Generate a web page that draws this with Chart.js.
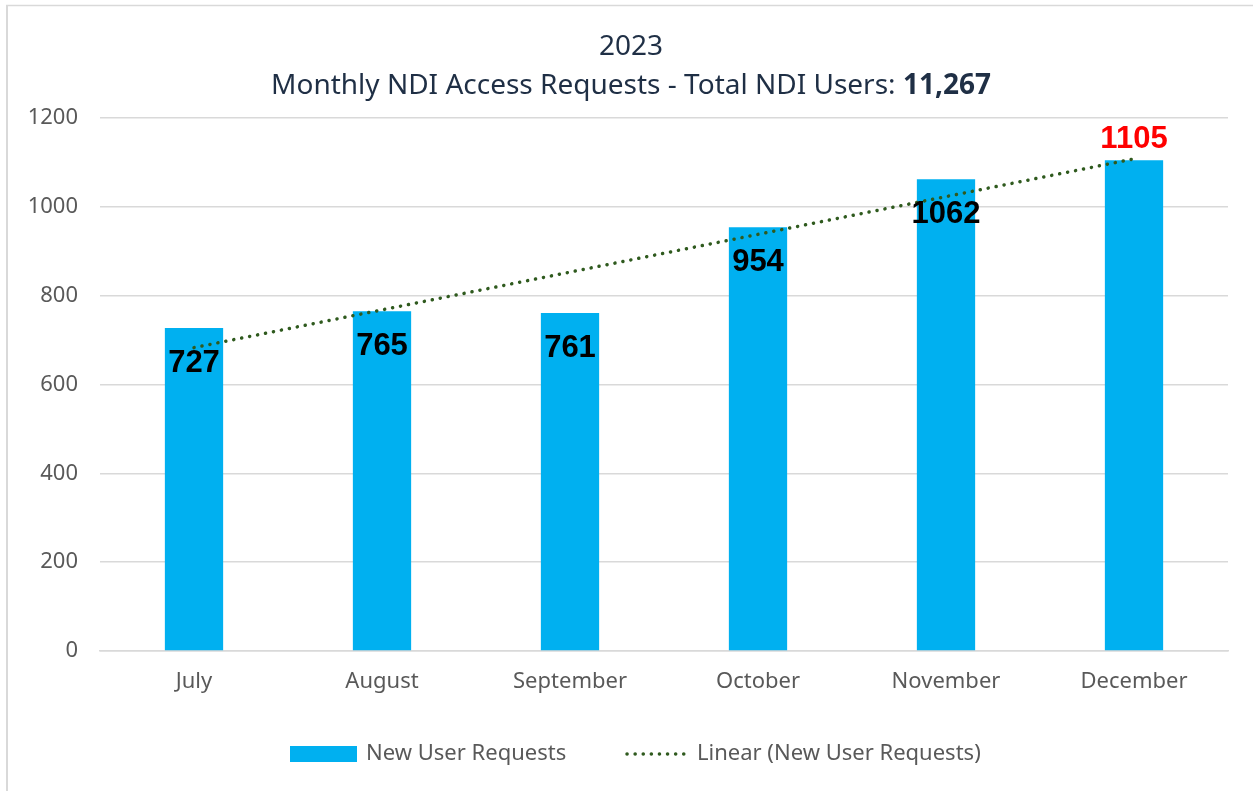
<!DOCTYPE html>
<html lang="en">
<head>
    <meta charset="UTF-8">
    <title>Monthly NDI Access Requests</title>
    <script src="https://cdn.jsdelivr.net/npm/chart.js"></script>
    <style>
        body { margin: 0; background: #fff; }
        #wrap { position: relative; width: 1253px; height: 791px; }
    </style>
</head>
<body>
    <div id="wrap"><canvas id="chart"></canvas></div>

    <script>
        // chart data
        const months = ['July', 'August', 'September', 'October', 'November', 'December'];
        const newUserRequests = [727, 765, 761, 954, 1062, 1105];
        // trendline end points (July / December)
        const trendValues = [683, null, null, null, null, 1108];
        const yTicks = [0, 200, 400, 600, 800, 1000, 1200];
        const titleYear = '2023';
        const titleMain = 'Monthly NDI Access Requests - Total NDI Users: ';
        const titleTotal = '11,267';

        const BAR_BLUE = '#00b0f0';
        const TREND_GREEN = '#2f5a1e';
        const GRID = '#d9d9d9';
        const TEXT_GRAY = '#595959';
        const TITLE_COLOR = '#1f2f45';
        const UI_FONT = '"Noto Sans", Roboto, sans-serif';

        // frame, title, bar value labels, legend
        const decorPlugin = {
            id: 'decor',
            afterDraw(chart) {
                const ctx = chart.ctx;
                ctx.save();

                // frame border (top and left visible)
                ctx.strokeStyle = GRID;
                ctx.lineWidth = 1.5;
                ctx.beginPath();
                ctx.moveTo(6, 5.5);
                ctx.lineTo(1253, 5.5);
                ctx.stroke();
                ctx.lineWidth = 2;
                ctx.beginPath();
                ctx.moveTo(7, 5);
                ctx.lineTo(7, 791);
                ctx.stroke();

                // title
                ctx.fillStyle = TITLE_COLOR;
                ctx.textBaseline = 'middle';
                ctx.textAlign = 'center';
                ctx.font = '28px ' + UI_FONT;
                ctx.fillText(titleYear, 631, 47);
                const regFont = '28px ' + UI_FONT;
                const boldFont = 'bold 28px ' + UI_FONT;
                ctx.font = regFont;
                const w1 = ctx.measureText(titleMain).width;
                ctx.font = boldFont;
                const w2 = ctx.measureText(titleTotal).width;
                let x = 631 - (w1 + w2) / 2;
                ctx.textAlign = 'left';
                ctx.font = regFont;
                ctx.fillText(titleMain, x, 86);
                ctx.font = boldFont;
                ctx.fillText(titleTotal, x + w1, 86);

                // value labels on bars
                const meta = chart.getDatasetMeta(0);
                ctx.textAlign = 'center';
                ctx.font = 'bold 31px "Liberation Sans", Arial, sans-serif';
                meta.data.forEach((bar, i) => {
                    const last = i === newUserRequests.length - 1;
                    ctx.fillStyle = last ? '#ff0000' : '#000000';
                    const y = last ? bar.y - 21 : bar.y + 35;
                    ctx.fillText(String(newUserRequests[i]), bar.x, y);
                });

                // legend
                const ly = 754;
                ctx.fillStyle = BAR_BLUE;
                ctx.fillRect(290, ly - 8, 67, 16);
                ctx.fillStyle = TEXT_GRAY;
                ctx.font = '22px ' + UI_FONT;
                ctx.textAlign = 'left';
                ctx.fillText(chart.data.datasets[0].label, 366, ly);

                ctx.strokeStyle = TREND_GREEN;
                ctx.lineWidth = 3.5;
                ctx.lineCap = 'round';
                ctx.setLineDash([0.1, 8]);
                ctx.beginPath();
                ctx.moveTo(627, ly);
                ctx.lineTo(690, ly);
                ctx.stroke();
                ctx.setLineDash([]);
                ctx.fillText(chart.data.datasets[1].label, 697, ly);

                ctx.restore();
            }
        };

        new Chart(document.getElementById('chart'), {
            data: {
                labels: months,
                datasets: [
                    {
                        type: 'bar',
                        label: 'New User Requests',
                        data: newUserRequests,
                        backgroundColor: BAR_BLUE,
                        barPercentage: 0.31,
                        categoryPercentage: 1.0,
                        order: 2
                    },
                    {
                        type: 'line',
                        label: 'Linear (New User Requests)',
                        data: trendValues,
                        borderColor: TREND_GREEN,
                        borderWidth: 3.5,
                        borderDash: [0.1, 8],
                        borderCapStyle: 'round',
                        pointRadius: 0,
                        spanGaps: true,
                        fill: false,
                        order: 1
                    }
                ]
            },
            options: {
                responsive: true,
                maintainAspectRatio: false,
                animation: false,
                layout: { padding: { top: 118, right: 25, left: 0, bottom: 0 } },
                plugins: {
                    legend: { display: false },
                    title: { display: false },
                    tooltip: { enabled: false }
                },
                scales: {
                    x: {
                        grid: { display: false, drawTicks: false },
                        border: { color: GRID, width: 1.5 },
                        ticks: {
                            color: TEXT_GRAY,
                            font: { family: UI_FONT, size: 22 },
                            padding: 18,
                            maxRotation: 0
                        },
                        afterFit(scale) { scale.height = 140; }
                    },
                    y: {
                        min: 0,
                        max: 1200,
                        afterBuildTicks(scale) { scale.ticks = yTicks.map(v => ({ value: v })); },
                        grid: { color: GRID, lineWidth: 1.5, drawTicks: false },
                        border: { display: false },
                        ticks: {
                            color: TEXT_GRAY,
                            font: { family: UI_FONT, size: 22 },
                            padding: 22,
                            callback: v => String(v)
                        },
                        afterFit(scale) { scale.width = 100; }
                    }
                }
            },
            plugins: [decorPlugin]
        });
    </script>
</body>
</html>
